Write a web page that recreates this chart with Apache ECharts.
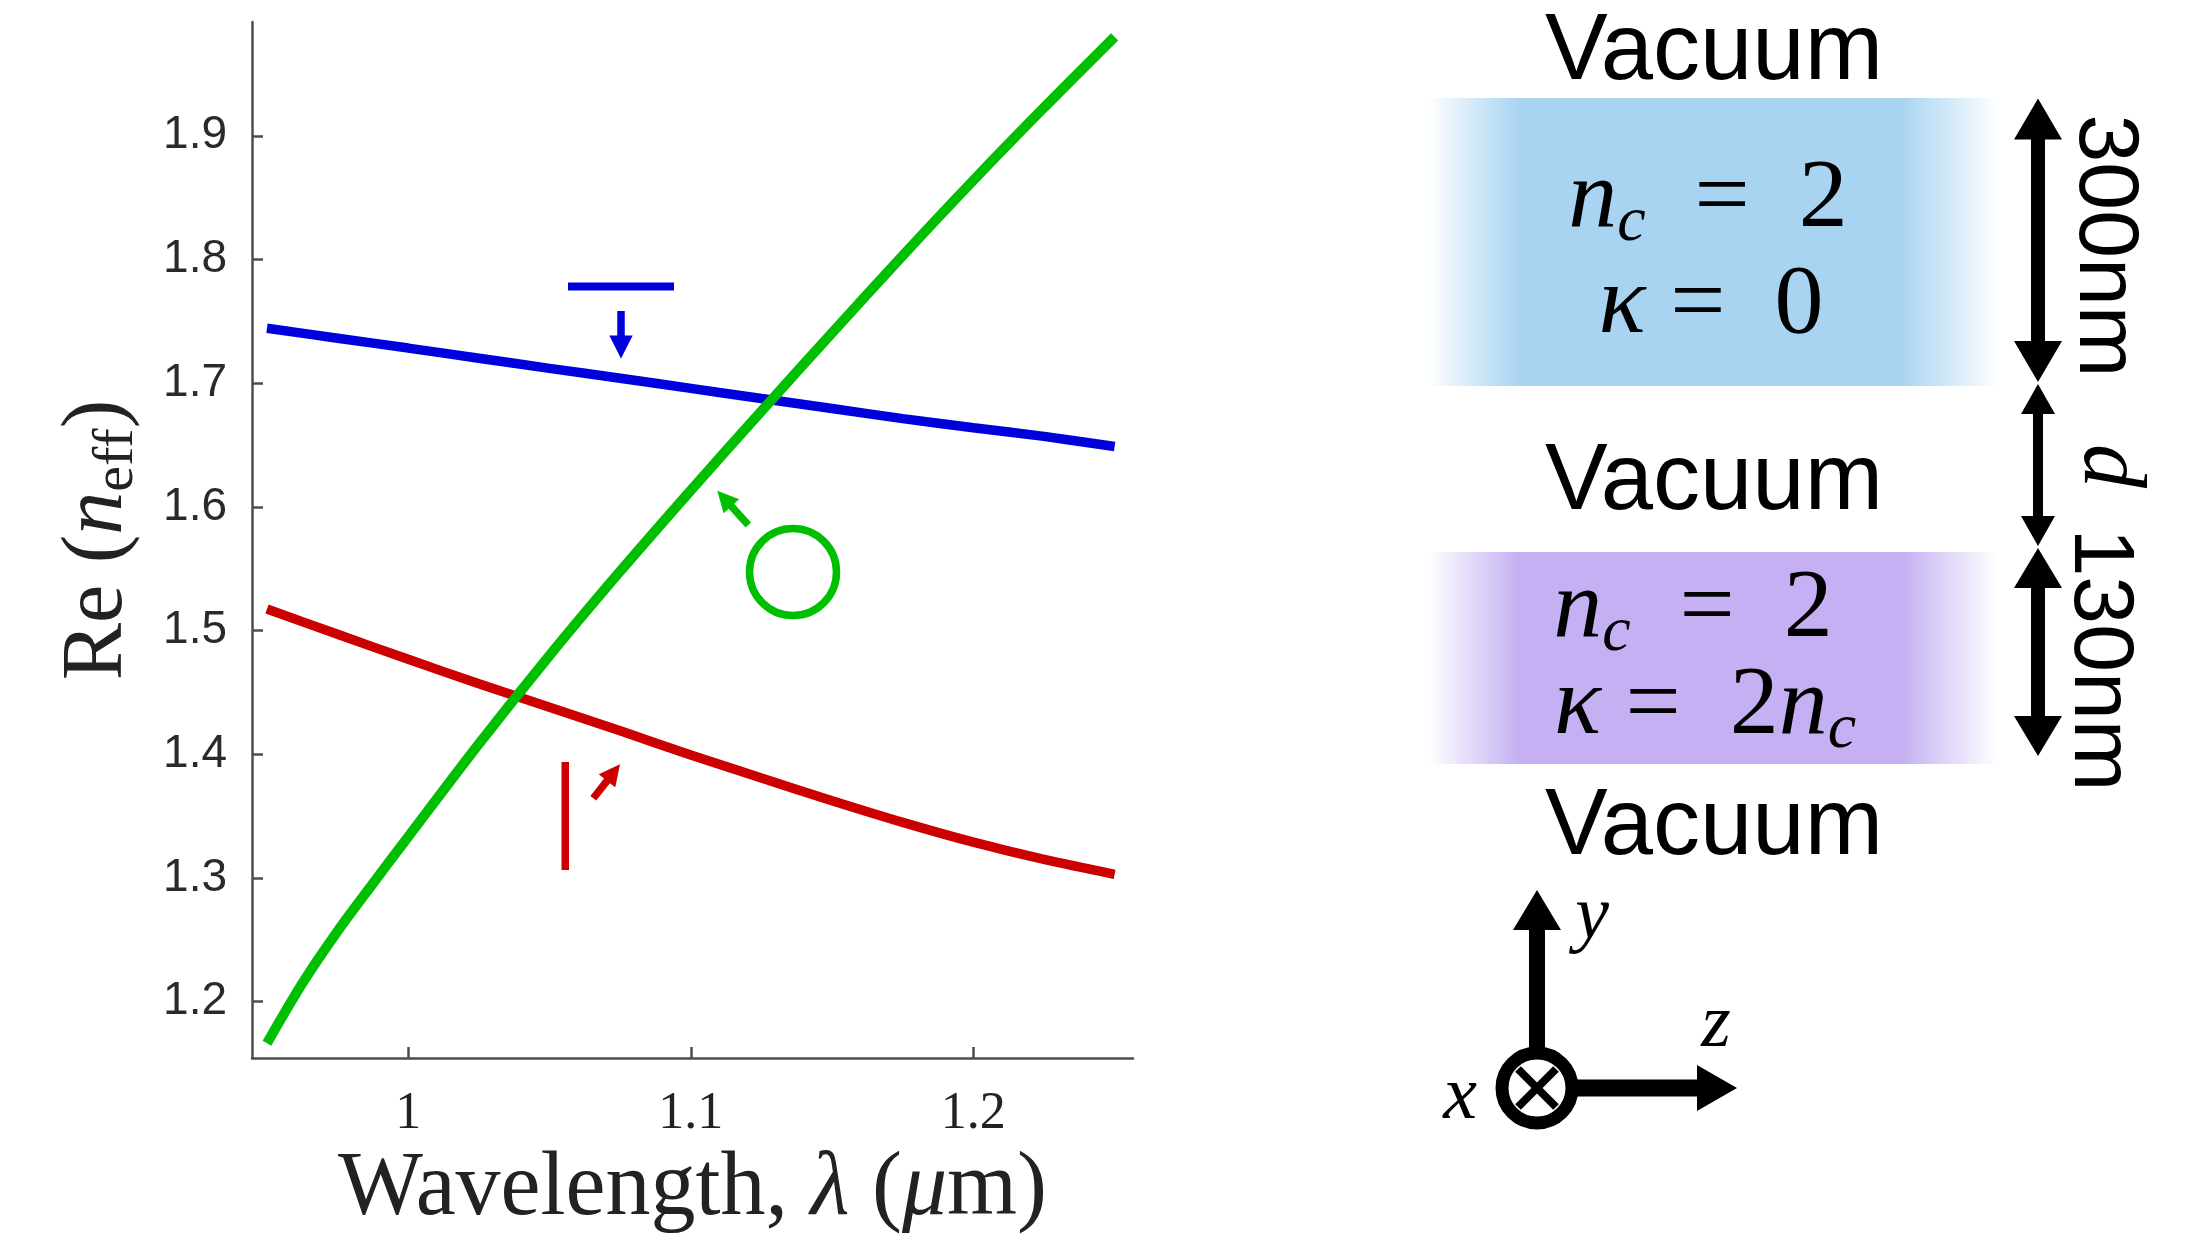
<!DOCTYPE html>
<html><head><meta charset="utf-8">
<script src="https://cdn.jsdelivr.net/npm/echarts@6/dist/echarts.min.js"></script>
<style>html,body{margin:0;padding:0;background:#fff}#c{width:2187px;height:1244px}</style>
</head><body><div id="c"></div>
<script>
// ---- data ----
const wavelength = [0.95, 0.975, 1.0, 1.025, 1.05, 1.075, 1.1, 1.125, 1.15, 1.175, 1.2, 1.225, 1.25];
const blueMode  = [1.7444, 1.7364, 1.7284, 1.7202, 1.7120, 1.7040, 1.6958, 1.6876, 1.6795, 1.6714, 1.6640, 1.6570, 1.6488];
const redMode   = [1.5175, 1.4970, 1.4768, 1.4570, 1.4380, 1.4190, 1.3995, 1.3808, 1.3625, 1.3450, 1.3290, 1.3150, 1.3030];
const greenWavelength = [0.95, 0.9625, 0.975, 0.9875, 1.0, 1.025, 1.05, 1.075, 1.1, 1.125, 1.15, 1.175, 1.2, 1.225, 1.25];
const greenMode = [1.1665, 1.2148, 1.2571, 1.2956, 1.3334, 1.4084, 1.4799, 1.5479, 1.6134, 1.6774, 1.7407, 1.8032, 1.8640, 1.9228, 1.9800];
const xTicks = [1, 1.1, 1.2];
const yTicks = [1.2, 1.3, 1.4, 1.5, 1.6, 1.7, 1.8, 1.9];

const BLUE = '#0000dd', RED = '#cc0000', GREEN = '#00bf00';
const SERIF = "'Liberation Serif', 'DejaVu Serif', serif";
const SANS = "'Liberation Sans', Arial, sans-serif";

function arrowPts(x0, y0, x1, y1, sw, hl, hw) {
  const dx = x1 - x0, dy = y1 - y0, L = Math.hypot(dx, dy), ux = dx / L, uy = dy / L, px = -uy, py = ux;
  const bx = x1 - ux * hl, by = y1 - uy * hl;
  return [[x0 + px * sw / 2, y0 + py * sw / 2], [bx + px * sw / 2, by + py * sw / 2], [bx + px * hw, by + py * hw], [x1, y1],
          [bx - px * hw, by - py * hw], [bx - px * sw / 2, by - py * sw / 2], [x0 - px * sw / 2, y0 - py * sw / 2]];
}
function dblArrowPts(x, y0, y1, sw, hl, hw) {
  return [[x, y0], [x + hw, y0 + hl], [x + sw / 2, y0 + hl], [x + sw / 2, y1 - hl], [x + hw, y1 - hl], [x, y1],
          [x - hw, y1 - hl], [x - sw / 2, y1 - hl], [x - sw / 2, y0 + hl], [x - hw, y0 + hl]];
}
function poly(points, fill) { return { type: 'polygon', shape: { points }, style: { fill }, silent: true }; }

const mathRich = {
  i: { fontFamily: SERIF, fontStyle: 'italic', fontSize: 98, lineHeight: 110, verticalAlign: 'middle', color: '#000' },
  r: { fontFamily: SERIF, fontSize: 98, lineHeight: 110, verticalAlign: 'middle', color: '#000' },
  s: { fontFamily: SERIF, fontStyle: 'italic', fontSize: 64, lineHeight: 44, verticalAlign: 'bottom', color: '#000' }
};
function mathText(text, x, y) {
  return { type: 'text', x, y, silent: true,
    style: { text, rich: mathRich, align: 'center', verticalAlign: 'middle' } };
}
function plainText(text, x, y, size, rot, font, italic) {
  return { type: 'text', x, y, rotation: rot || 0, silent: true,
    style: { text, fill: '#000', font: (italic ? 'italic ' : '') + size + 'px ' + (font || SANS), align: 'center', verticalAlign: 'middle' } };
}
function hGrad(r, g, b) {
  return { type: 'linear', x: 0, y: 0, x2: 1, y2: 0, colorStops: [
    { offset: 0, color: `rgba(${r},${g},${b},0)` }, { offset: 0.16, color: `rgba(${r},${g},${b},1)` },
    { offset: 0.83, color: `rgba(${r},${g},${b},1)` }, { offset: 1, color: `rgba(${r},${g},${b},0)` }] };
}

const graphics = [
  // plot annotations
  { type: 'rect', shape: { x: 568, y: 282.5, width: 106, height: 8 }, style: { fill: BLUE }, silent: true },
  poly(arrowPts(621, 311, 621, 358.5, 7.5, 23, 11.7), BLUE),
  { type: 'rect', shape: { x: 561.5, y: 762, width: 7.5, height: 108 }, style: { fill: RED }, silent: true },
  poly(arrowPts(593.3, 798.3, 620, 764.3, 7.5, 21, 10.5), RED),
  { type: 'circle', shape: { cx: 793, cy: 572, r: 43.5 }, style: { fill: 'none', stroke: GREEN, lineWidth: 7.5 }, silent: true },
  poly(arrowPts(748.3, 525, 717.3, 490.7, 7.5, 21, 10.5), GREEN),

  // layer diagram
  { type: 'rect', shape: { x: 1428, y: 98, width: 570, height: 288 }, style: { fill: hGrad(168, 212, 242) }, silent: true },
  { type: 'rect', shape: { x: 1428, y: 552, width: 570, height: 212 }, style: { fill: hGrad(196, 176, 242) }, silent: true },
  plainText('Vacuum', 1714, 53, 94),
  plainText('Vacuum', 1714, 483, 94),
  plainText('Vacuum', 1714, 828, 94),
  mathText('{i|n}{s|c}{r|  =  2}', 1708, 200),
  mathText('{i|κ}{r| =  0}', 1711, 306),
  mathText('{i|n}{s|c}{r|  =  2}', 1693, 610),
  mathText('{i|κ}{r| =  2}{i|n}{s|c}', 1705, 707),
  poly(dblArrowPts(2038, 98.5, 382, 14, 41, 24), '#000'),
  poly(dblArrowPts(2038, 384, 546, 10, 30, 17), '#000'),
  poly(dblArrowPts(2038, 548, 756, 14, 40, 24), '#000'),
  plainText('300nm', 2104, 246, 86, -Math.PI / 2),
  plainText('d', 2108, 466, 88, -Math.PI / 2, SERIF, true),
  plainText('130nm', 2099, 660, 86, -Math.PI / 2),

  // coordinate icon
  poly(arrowPts(1537, 1060, 1537, 890, 16, 40, 24), '#000'),
  poly(arrowPts(1565, 1088, 1737, 1088, 17, 40, 23), '#000'),
  { type: 'circle', shape: { cx: 1537, cy: 1088, r: 35 }, style: { fill: '#fff', stroke: '#000', lineWidth: 13 }, silent: true },
  { type: 'line', shape: { x1: 1518, y1: 1069, x2: 1556, y2: 1107 }, style: { stroke: '#000', lineWidth: 8 }, silent: true },
  { type: 'line', shape: { x1: 1556, y1: 1069, x2: 1518, y2: 1107 }, style: { stroke: '#000', lineWidth: 8 }, silent: true },
  plainText('y', 1592, 918, 76, 0, SERIF, true),
  plainText('z', 1716, 1026, 76, 0, SERIF, true),
  plainText('x', 1460, 1098, 76, 0, SERIF, true)
];

const AXC = '#4d4d4d';
const option = {
  animation: false,
  backgroundColor: '#fff',
  grid: { left: 252, top: 22, width: 881, height: 1036, containLabel: false },
  xAxis: {
    type: 'value', min: 0.9447, max: 1.2565,
    name: '{r|Wavelength, }{i|λ}{r| (}{i|μ}{r|m)}',
    nameLocation: 'middle', nameGap: 84,
    nameTextStyle: { rich: {
      r: { fontFamily: SERIF, fontSize: 90, color: '#222', lineHeight: 96 },
      i: { fontFamily: SERIF, fontStyle: 'italic', fontSize: 90, color: '#222', lineHeight: 96 } } },
    axisLine: { show: true, onZero: false, lineStyle: { color: AXC, width: 2.5 } },
    axisTick: { show: true, inside: true, length: 11, customValues: xTicks, lineStyle: { color: AXC, width: 2.5 } },
    axisLabel: { customValues: xTicks, margin: 30, fontFamily: SERIF, fontSize: 52, color: '#222',
      formatter: v => String(+(+v).toFixed(1)) },
    splitLine: { show: false }
  },
  yAxis: {
    type: 'value', min: 1.1545, max: 1.992,
    name: '{r|Re}{r| (}{i|n}{s|eff}{r|)}',
    nameLocation: 'middle', nameGap: 106, nameRotate: 90,
    nameTextStyle: { rich: {
      r: { fontFamily: SERIF, fontSize: 86, color: '#222', lineHeight: 96, verticalAlign: 'middle' },
      i: { fontFamily: SERIF, fontStyle: 'italic', fontSize: 86, color: '#222', lineHeight: 96, verticalAlign: 'middle' },
      s: { fontFamily: SERIF, fontSize: 58, color: '#222', lineHeight: 40, verticalAlign: 'bottom' } } },
    axisLine: { show: true, onZero: false, lineStyle: { color: AXC, width: 2.5 } },
    axisTick: { show: true, inside: true, length: 11, customValues: yTicks, lineStyle: { color: AXC, width: 2.5 } },
    axisLabel: { customValues: yTicks, margin: 25, fontFamily: SANS, fontSize: 46, color: '#2a2a2a',
      formatter: v => (+v).toFixed(1) },
    splitLine: { show: false }
  },
  series: [
    { type: 'line', name: 'blue mode', data: wavelength.map((w, i) => [w, blueMode[i]]), showSymbol: false, smooth: 0.3,
      lineStyle: { color: BLUE, width: 9.5 }, z: 2 },
    { type: 'line', name: 'red mode', data: wavelength.map((w, i) => [w, redMode[i]]), showSymbol: false, smooth: 0.3,
      lineStyle: { color: RED, width: 9.5 }, z: 2 },
    { type: 'line', name: 'green mode', data: greenWavelength.map((w, i) => [w, greenMode[i]]), showSymbol: false, smooth: 0.3,
      lineStyle: { color: GREEN, width: 10 }, z: 3 }
  ],
  graphic: graphics
};
const chart = echarts.init(document.getElementById('c'), null, { renderer: 'canvas' });
chart.setOption(option);
</script></body></html>
